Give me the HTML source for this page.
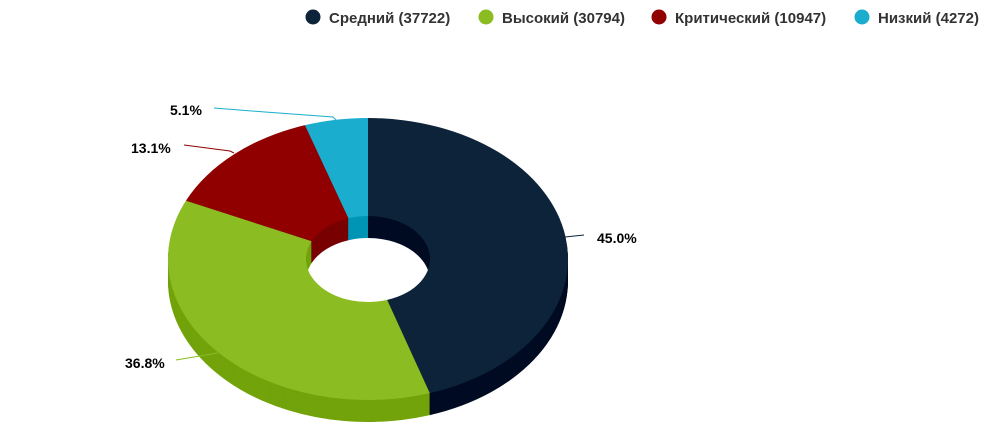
<!DOCTYPE html>
<html><head><meta charset="utf-8"><style>
body{margin:0;background:#fff;width:988px;height:440px;overflow:hidden}
svg{font-family:"Liberation Sans",sans-serif}
</style></head><body>
<svg id="s" width="988" height="440" xmlns="http://www.w3.org/2000/svg">
<g id="ch"></g>
<g font-size="14" font-weight="bold" fill="#000">
<polyline points="565,237 584,235" fill="none" stroke="#0d233a"/>
<text x="597" y="243">45.0%</text>
<polyline points="176,360 218,353" fill="none" stroke="#8bbc21"/>
<text x="125" y="368">36.8%</text>
<polyline points="184,145 230,151 234,153" fill="none" stroke="#910000"/>
<text x="131" y="153">13.1%</text>
<polyline points="214,108 265,112 333,117 336,120" fill="none" stroke="#1aadce"/>
<text x="170" y="115">5.1%</text>
</g>
<g font-size="15" font-weight="bold" fill="#333">
<circle cx="313" cy="17" r="7.5" fill="#0d233a"/><text x="329" y="23">Средний (37722)</text>
<circle cx="486" cy="17" r="7.5" fill="#8bbc21"/><text x="502" y="23">Высокий (30794)</text>
<circle cx="659" cy="17" r="7.5" fill="#910000"/><text x="675" y="23">Критический (10947)</text>
<circle cx="862" cy="17" r="7.5" fill="#1aadce"/><text x="878" y="23">Низкий (4272)</text>
</g>
</svg>
<script>
var cx=368,cy=259,rx=200,ry=141,irx=62,iry=43,D=22;
var data=[[45.0,'#0d233a','#000b22'],[36.8,'#8bbc21','#72a30a'],[13.1,'#910000','#780000'],[5.1,'#1aadce','#0094b5']];
function pt(a,r1,r2,dy){return [cx+r1*Math.sin(a),cy-r2*Math.cos(a)+dy];}
function path(a1,a2,dy){var p1=pt(a1,rx,ry,dy),p2=pt(a2,rx,ry,dy),q2=pt(a2,irx,iry,dy),q1=pt(a1,irx,iry,dy);
var l=(a2-a1)>Math.PI?1:0;
return 'M'+p1+' A'+rx+','+ry+' 0 '+l+' 1 '+p2+' L'+q2+' A'+irx+','+iry+' 0 '+l+' 0 '+q1+' Z';}
var g=document.getElementById('ch'),h='',a=0,segs=[];
data.forEach(function(d){var a2=a+d[0]/100*2*Math.PI;segs.push([a,a2,d]);a=a2;});
for(var dy=D;dy>=1;dy--)segs.forEach(function(s){h+='<path d="'+path(s[0],s[1],dy)+'" fill="'+s[2][2]+'"/>';});
segs.forEach(function(s){h+='<path d="'+path(s[0],s[1],0)+'" fill="'+s[2][1]+'"/>';});
g.innerHTML=h;
</script>
</body></html>
